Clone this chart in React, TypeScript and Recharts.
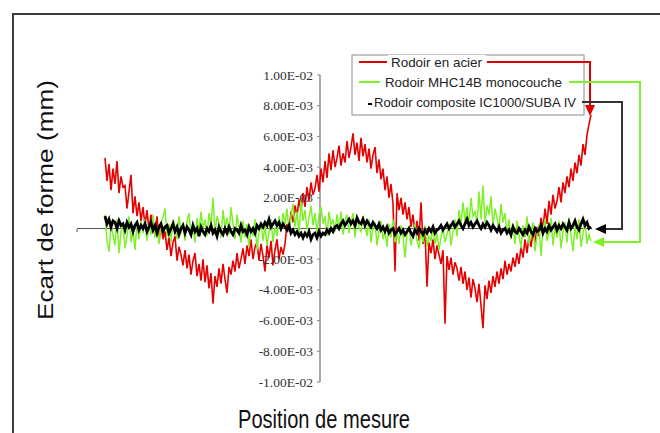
import React from 'react';
import { LineChart, Line, XAxis, YAxis, ReferenceLine } from 'recharts';

// Ecart de forme en µm (1 µm = 1.00E-03 mm), un point par position de mesure
const acier = [
    4.6, 3.1, 4.2, 2.5, 3.9, 2.9, 4.4, 2.3, 3.4, 2.7,
    2.8, 1.3, 2.4, 3.5, 1.0, 2.1, 0.8, 1.7, 0.5, 1.4,
    0.2, 1.2, -0.1, 0.9, 0.4, -0.5, 0.8, -0.9, 0.3, -0.7,
    -0.2, -1.4, -0.6, -1.8, -0.9, -0.5, -2.1, -1.2, -1.7, -2.4,
    -1.4, -2.6, -1.7, -3.0, -2.1, -1.6, -3.1, -2.3, -3.4, -2.0,
    -3.5, -2.4, -3.9, -2.9, -4.9, -3.1, -3.8, -2.6, -3.6, -2.3,
    -3.3, -4.2, -2.5, -3.0, -2.1, -2.8, -1.6, -2.6, -2.0, -1.3,
    -2.3, -1.1, -1.8, -0.7, -2.0, -1.2, -0.9, -2.1, -1.0, -1.8,
    -2.8, -1.1, -1.9, -0.8, -2.4, -1.4, -0.7, -2.0, -1.2, -1.7,
    -1.0, 0.3, -0.2, 1.1, 0.4, 1.5, 0.8, 1.9, 1.2, 2.3,
    1.4, 2.7, 1.8, 3.0, 2.2, 2.6, 3.5, 2.4, 3.9, 3.0,
    4.4, 3.3, 4.9, 3.8, 5.1, 4.0, 4.6, 5.4, 4.1, 4.9,
    4.3, 5.7, 4.6, 5.3, 6.2, 4.8, 5.6, 4.4, 5.9, 4.7,
    5.5, 4.3, 5.2, 3.9, 4.8, 5.3, 3.6, 4.5, 3.2, 3.9,
    2.5, 3.4, 2.0, 2.9, 1.6, -2.8, 2.3, 1.2, 2.0, 0.9,
    1.7, 0.6, 1.4, 0.1, 0.9, -0.3, 0.5, -0.8, 1.7, -1.0,
    -0.2, -3.8, -0.9, -1.6, -0.7, -2.0, -1.1, -1.7, -2.3, -1.4,
    -6.2, -1.8, -2.7, -1.9, -3.0, -2.2, -2.6, -3.4, -2.5, -3.6,
    -2.8, -4.0, -3.2, -4.5, -3.3, -3.9, -4.8, -3.6, -5.0, -6.5,
    -3.7, -4.6, -3.4, -4.2, -3.1, -3.8, -2.8, -3.6, -2.6, -3.3,
    -2.1, -3.0, -2.3, -2.8, -1.9, -2.5, -1.6, -2.3, -1.2, -1.9,
    -0.7, -1.6, -0.5, -1.2, -0.2, -0.9, 0.1, -0.5, 0.7, 0.0,
    1.3, 0.3, 1.8, 0.9, 2.2, 1.3, 1.8, 2.7, 1.7, 3.0,
    2.3, 3.4, 2.7, 3.9, 3.1, 4.3, 3.6, 4.8, 4.1, 5.5,
    4.8, 6.1, 6.8, 7.4,
];

const mhc14b = [
    0.9, -0.8, -1.5, 0.2, -0.4, -1.1, 0.6, -1.6, -0.2, 0.4,
    -1.3, -0.5, 0.8, -0.9, -0.1, -1.4, 0.3, -0.7, 0.5, -0.3,
    0.6, -0.8, 0.2, -0.4, 0.9, -0.6, 0.1, -1.0, 0.4, 0.7,
    1.3, -0.5, 0.3, -0.9, 0.6, 0.1, -0.7, 0.8, -0.3, 0.4,
    -0.8, 0.5, 1.0, -0.4, 0.2, -0.9, 0.7, -0.2, 1.1, 0.0,
    0.6, -0.5, 1.0, 0.2, 2.0, -0.3, 0.8, 0.4, -0.6, 1.2,
    0.1, 0.7, -0.4, 1.4, 0.3, -0.7, 0.9, 0.0, -0.9, 0.5,
    -0.6, 0.3, -1.2, 0.0, -0.5, 0.6, -1.4, -0.2, 0.4, -0.8,
    0.2, -1.1, -0.3, 0.6, -0.9, 0.1, -0.5, 0.8, -0.2, 1.0,
    0.3, 1.3, -0.2, 0.8, 1.6, 0.1, 1.1, -0.4, 1.9, 0.5,
    1.2, -0.1, 0.7, 1.5, 0.2, 1.0, -0.3, 0.9, 1.4, 0.3,
    0.8, -0.5, 1.1, 0.2, 0.6, -0.2, 0.9, 0.0, 1.1, -0.4,
    0.5, 0.9, -0.3, 0.4, 1.0, -0.6, 0.7, 0.1, -0.2, 0.8,
    0.2, -0.5, 0.6, -0.9, 0.1, 0.4, -1.1, -0.2, 0.5, -0.7,
    -0.2, -1.2, 0.3, -0.6, 0.6, -0.9, -0.1, -1.0, 0.2, -0.5,
    -1.9, -0.3, 0.2, -1.1, -0.4, 0.3, -0.8, -1.3, -0.2, -0.9,
    0.2, -1.2, -0.5, -0.8, 0.1, -1.0, -0.3, -1.4, -0.6, 0.0,
    -0.9, -0.4, 0.3, -1.1, -0.2, 0.6, -0.5, 1.2, 0.3, 1.7,
    0.5, 1.4, 0.2, 2.0, 0.8, 1.1, 0.3, 2.4, 0.6, 2.8,
    0.4, 1.5, 0.9, 2.1, 0.2, 1.3, 0.7, -0.1, 1.6, 0.4,
    1.0, -0.3, 0.6, -0.7, 0.3, -1.0, 0.5, -0.4, -1.3, 0.2,
    -0.6, 0.8, -1.0, -0.2, 0.4, -1.5, -0.5, 0.3, -1.8, -0.1,
    0.6, -0.8, -0.3, 0.7, -1.1, 0.1, -0.6, 0.5, -1.3, -0.2,
    0.4, -0.9, 0.7, -0.4, -1.5, 0.2, -0.7, 0.6, -1.2, -0.3,
    0.5, -1.0, -0.4, -0.8,
];

const ic1000 = [
    0.8, 0.3, 0.6, 0.1, 0.5, 0.4, 0.0, 0.5, 0.2, 0.3,
    -0.1, 0.4, 0.1, 0.3, -0.2, 0.2, 0.4, -0.1, 0.2, 0.0,
    0.3, -0.2, 0.1, 0.4, -0.1, 0.2, -0.3, 0.1, 0.3, -0.2,
    0.1, 0.2, -0.3, 0.0, 0.3, -0.2, 0.1, -0.4, 0.0, 0.2,
    -0.3, 0.1, -0.1, -0.4, 0.2, -0.2, 0.0, -0.5, 0.1, -0.2,
    -0.4, 0.0, -0.2, 0.2, -0.3, -0.1, -0.5, 0.1, -0.2, -0.4,
    0.0, -0.3, 0.1, -0.2, -0.4, 0.0, -0.1, -0.3, 0.2, -0.2,
    -0.1, -0.4, 0.1, -0.2, 0.0, -0.3, 0.2, 0.0, 0.3, 0.1,
    0.4, 0.2, 0.6, 0.1, 0.3, 0.5, 0.2, 0.4, 0.0, 0.3,
    0.1, -0.1, 0.2, -0.3, -0.1, -0.4, -0.2, -0.5, -0.3, -0.6,
    -0.3, -0.5, -0.2, -0.7, -0.4, -0.3, -0.6, -0.2, -0.5, -0.3,
    -0.4, -0.1, -0.3, 0.0, -0.2, 0.1, 0.2, 0.0, 0.3, 0.5,
    0.2, 0.4, 0.6, 0.3, 0.5, 0.2, 0.7, 0.4, 0.3, 0.6,
    0.2, 0.5, 0.3, 0.1, 0.4, 0.2, 0.0, 0.3, -0.1, 0.1,
    -0.2, 0.1, -0.3, -0.1, 0.0, -0.4, -0.2, 0.0, -0.3, -0.1,
    -0.4, -0.2, 0.0, -0.3, -0.5, -0.1, -0.3, 0.0, -0.2, -0.4,
    -0.1, -0.3, 0.0, -0.2, 0.1, -0.3, -0.1, 0.0, 0.2, -0.1,
    0.1, 0.3, 0.0, 0.2, 0.4, 0.1, 0.3, 0.5, 0.2, 0.0,
    0.3, 0.6, 0.2, 0.4, 0.1, 0.3, 0.5, 0.2, 0.0, 0.3,
    0.1, 0.4, 0.2, -0.1, 0.2, 0.0, -0.2, 0.1, -0.3, -0.1,
    0.0, -0.3, -0.1, -0.4, 0.1, -0.2, -0.3, 0.0, -0.2, -0.4,
    -0.1, -0.3, 0.1, -0.2, -0.4, 0.0, -0.2, -0.1, 0.2, -0.3,
    0.0, -0.2, 0.2, -0.1, 0.1, 0.3, -0.1, 0.2, 0.0, 0.3,
    0.1, -0.1, 0.4, 0.0, 0.2, 0.5, 0.1, -0.1, 0.3, 0.6,
    0.2, 0.4, 0.0, 0.1,
];

const seriesNames = [
    'Rodoir en acier',
    'Rodoir MHC14B monocouche',
    'Rodoir composite IC1000/SUBA IV',
];

const yTicks = [10, 8, 6, 4, 2, -2, -4, -6, -8, -10];

// l'axe vertical coupe l'axe des positions au point 107.5
const AXIS_AT = 107.5;
const AXIS_PX = 320;

const data = acier.map((v, i) => ({
    pos: i,
    acier: v,
    mhc: mhc14b[i],
    ic: ic1000[i],
}));

// µm -> "8.00E-03" (mm, format tableur)
const sci = (um: number) => {
    const [m, e] = (um / 1000).toExponential(2).split('e');
    const n = Number(e);
    return `${m}E${n < 0 ? '-' : '+'}${String(Math.abs(n)).padStart(2, '0')}`;
};

const YTick = ({ y, payload }: any) => (
    <g>
        <line x1={AXIS_PX - 3} x2={AXIS_PX} y1={y} y2={y} stroke="#888" />
        <text
            x={AXIS_PX - 7}
            y={y}
            textAnchor="end"
            dominantBaseline="central"
            fontFamily="'Liberation Serif', serif"
            fontSize={13.5}
            fill="#333"
        >
            {sci(payload.value)}
        </text>
    </g>
);

const sans = "'Liberation Sans', Arial, sans-serif";

const Overlay = () => (
    <svg
        width={660}
        height={433}
        style={{ position: 'absolute', left: 0, top: 0, pointerEvents: 'none' }}
    >
        <path d="M13 433 V14 H660" fill="none" stroke="#3c3c3c" strokeWidth={2} />
        <line x1={77} x2={77} y1={229} y2={232} stroke="#555" />

        <text
            transform="translate(53,200) rotate(-90)"
            textAnchor="middle"
            fontFamily={sans}
            fontSize={22}
            textLength={240}
            lengthAdjust="spacingAndGlyphs"
            fill="#111"
        >
            Ecart de forme (mm)
        </text>
        <text
            x={238}
            y={428}
            fontFamily={sans}
            fontSize={26}
            textLength={172}
            lengthAdjust="spacingAndGlyphs"
            fill="#111"
        >
            Position de mesure
        </text>

        {/* légende */}
        <rect x={352} y={55} width={232} height={60} fill="none" stroke="#8a8a8a" />
        <rect x={388} y={55} width={98} height={14} fill="#fff" />

        <line x1={359} x2={387} y1={62} y2={62} stroke="#e00000" strokeWidth={2} />
        <text x={391} y={66.5} fontFamily={sans} fontSize={13.5} textLength={91}
            lengthAdjust="spacingAndGlyphs" fill="#222">{seriesNames[0]}</text>
        <polyline points="487,62 590,62 590,106" fill="none" stroke="#e00000" strokeWidth={2} />
        <polygon points="585,105 595,105 590,116" fill="#e00000" />

        <line x1={359} x2={380} y1={82} y2={82} stroke="#7ef02a" strokeWidth={2} />
        <text x={385} y={86.5} fontFamily={sans} fontSize={13.5} textLength={177}
            lengthAdjust="spacingAndGlyphs" fill="#222">{seriesNames[1]}</text>
        <polyline points="569,82 640,82 640,242 604,242" fill="none" stroke="#7ef02a" strokeWidth={2} />
        <polygon points="604,237 604,247 593,242" fill="#7ef02a" />

        <line x1={368} x2={372} y1={104} y2={104} stroke="#000" strokeWidth={2} />
        <text x={374} y={106.5} fontFamily={sans} fontSize={13.5} textLength={202}
            lengthAdjust="spacingAndGlyphs" fill="#222">{seriesNames[2]}</text>
        <polyline points="582,102 622,102 622,229 606,229" fill="none" stroke="#333" strokeWidth={2} />
        <polygon points="606,224 606,234 595,229" fill="#000" />
    </svg>
);

const App: React.FC = () => (
    <div
        style={{
            position: 'fixed',
            left: 0,
            top: 0,
            width: 660,
            height: 433,
            background: '#fff',
            overflow: 'hidden',
        }}
    >
        <LineChart
            width={660}
            height={433}
            data={data}
            margin={{ top: 75, right: 68, bottom: 51, left: 67 }}
        >
            <XAxis type="number" dataKey="pos" domain={[-14, 243.5]} hide />
            <YAxis
                type="number"
                domain={[-10, 10]}
                ticks={yTicks}
                interval={0}
                width={10}
                axisLine={false}
                tickLine={false}
                tick={<YTick />}
            />
            <ReferenceLine x={AXIS_AT} stroke="#8c8c8c" strokeWidth={1.5} />
            <ReferenceLine y={0} stroke="#555" />
            <Line
                type="linear"
                dataKey="acier"
                name={seriesNames[0]}
                stroke="#e60000"
                strokeWidth={1.6}
                dot={false}
                isAnimationActive={false}
            />
            <Line
                type="linear"
                dataKey="mhc"
                name={seriesNames[1]}
                stroke="#7ef02a"
                strokeWidth={1.5}
                dot={false}
                isAnimationActive={false}
            />
            <Line
                type="linear"
                dataKey="ic"
                name={seriesNames[2]}
                stroke="#000"
                strokeWidth={2.8}
                dot={false}
                isAnimationActive={false}
            />
        </LineChart>
        <Overlay />
    </div>
);

export default App;
